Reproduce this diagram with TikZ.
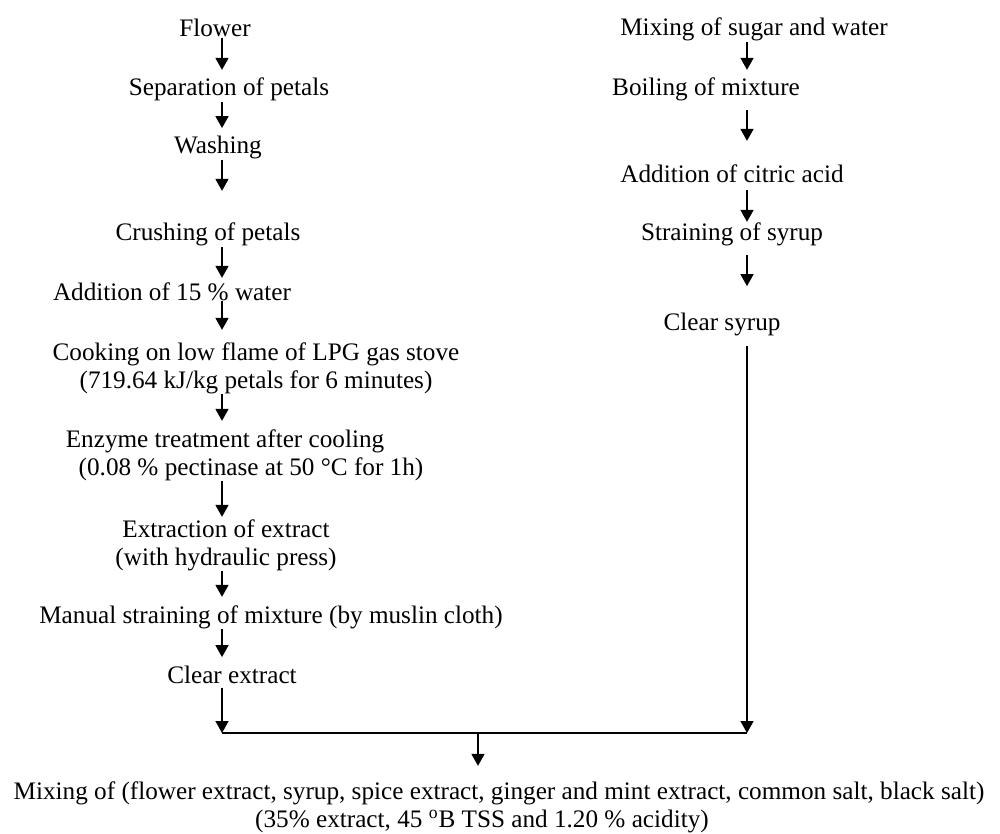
\documentclass[tikz,border=0pt]{standalone}
\usepackage{fontspec}
\setmainfont{Liberation Serif}
\usetikzlibrary{arrows.meta}

\begin{document}
\begin{tikzpicture}[x=0.5pt,y=-0.5pt,
	stage/.style={inner sep=0pt, anchor=base, align=center, font=\fontsize{12.6pt}{14pt}\selectfont},
	flow/.style={-{Triangle[width=6.5pt,length=6pt]}, line width=0.8pt, shorten >=4pt}]
	\useasboundingbox (0,0) rectangle (1000,834);
	\coordinate (lx) at (222,0);
	\coordinate (rx) at (747,0);
	
	% flower extract (two-line nodes sit on their last baseline)
	\node[stage] (flower) at (215,37) {Flower};
	\node[stage] (sep) at (229,96) {Separation of petals};
	\node[stage] (wash) at (218,154) {Washing};
	\node[stage] (crush) at (208,241) {Crushing of petals};
	\node[stage] (water) at (172,300) {Addition of 15 \% water};
	\node[stage] (cook) at (256,388) {Cooking on low flame of LPG gas stove\\(719.64 kJ/kg petals for 6 minutes)};
	\node[stage] (enzyme) at (225,475) {Enzyme treatment after cooling\\\hspace*{26pt}(0.08 \% pectinase at 50 °C for 1h)};
	\node[stage] (extract) at (226,565) {Extraction of extract\\(with hydraulic press)};
	\node[stage] (muslin) at (271,623) {Manual straining of mixture (by muslin cloth)};
	\node[stage] (clearext) at (232,683) {Clear extract};
	
	% syrup
	\node[stage] (sugar) at (754,36) {Mixing of sugar and water};
	\node[stage] (boil) at (706,96) {Boiling of mixture};
	\node[stage] (citric) at (732,183) {Addition of citric acid};
	\node[stage] (strsyrup) at (732,241) {Straining of syrup};
	\node[stage] (clearsyrup) at (722,330) {Clear syrup};
	
	% final mixing
	\node[stage] (mixing) at (499,827) {Mixing of (flower extract, syrup, spice extract, ginger and mint extract, common salt, black salt)\\(35\% extract, 45 \textsuperscript{o}B TSS and 1.20 \% acidity)\hspace*{17pt}};
	
	\coordinate (jl) at (222,733);
	\coordinate (jr) at (747,733);
	\coordinate (jm) at (478,733);
	
	\draw[flow] (flower.south -| lx) -- (sep.north -| lx);
	\draw[flow] (sep.south -| lx) -- (wash.north -| lx);
	\draw[flow, shorten >=16pt] (wash.south -| lx) -- (crush.north -| lx);
	\draw[flow, shorten >=2pt] (crush.south -| lx) -- (water.north -| lx);
	\draw[flow, shorten >=6pt] (water.south -| lx) -- (cook.north -| lx);
	\draw[flow] (cook.south -| lx) -- (enzyme.north -| lx);
	\draw[flow, shorten >=1pt] (enzyme.south -| lx) -- (extract.north -| lx);
	\draw[flow] (extract.south -| lx) -- (muslin.north -| lx);
	\draw[flow] (muslin.south -| lx) -- (clearext.north -| lx);
	\draw[flow, shorten <=2pt, shorten >=0pt] (clearext.south -| lx) -- (jl);
	
	\draw[flow] (sugar.south -| rx) -- (boil.north -| rx);
	\draw[flow, shorten <=4pt, shorten >=12pt] (boil.south -| rx) -- (citric.north -| rx);
	\draw[flow, shorten <=3pt, shorten >=0.5pt] (citric.south -| rx) -- (strsyrup.north -| rx);
	\draw[flow, shorten <=4pt, shorten >=13pt] (strsyrup.south -| rx) -- (clearsyrup.north -| rx);
	\draw[flow, shorten <=5pt, shorten >=0pt] (clearsyrup.south -| rx) -- (jr);
	
	\draw[line width=0.8pt] (jl) -- (jr);
	\draw[flow, shorten >=7.5pt] (jm) -- (mixing.north -| jm);
\end{tikzpicture}
\end{document}
